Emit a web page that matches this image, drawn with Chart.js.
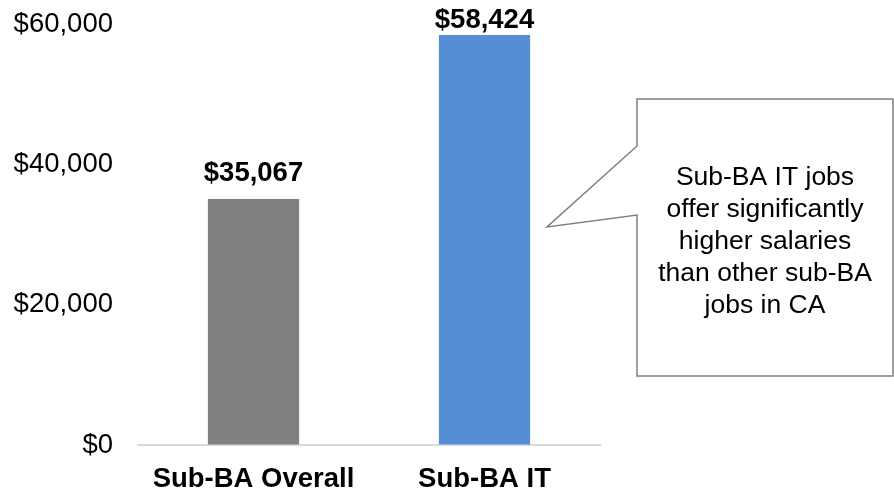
<!DOCTYPE html>
<html>
<head>
<meta charset="utf-8">
<script src="https://cdn.jsdelivr.net/npm/chart.js@4/dist/chart.umd.min.js"></script>
<style>
  html, body { margin: 0; padding: 0; background: #fff; }
  #wrap { width: 894px; height: 499px; }
</style>
</head>
<body>
<div id="wrap"><canvas id="chart" width="894" height="499"></canvas></div>
<script>
// data
var categories = ['Sub-BA Overall', 'Sub-BA IT'];
var salaries = [35067, 58424];
var barColors = ['#808080', '#558ed5'];
var yTicks = [0, 20000, 40000, 60000];
var calloutLines = ['Sub-BA IT jobs', 'offer significantly', 'higher salaries', 'than other sub-BA', 'jobs in CA'];

function money(v) {
    return '$' + Number(v).toLocaleString('en-US');
}

// value labels above the bars
var barLabels = {
    id: 'barLabels',
    afterDatasetsDraw: function(chart) {
        var ctx = chart.ctx;
        var meta = chart.getDatasetMeta(0);
        ctx.save();
        ctx.font = 'bold 27.5px "Liberation Sans", Arial, sans-serif';
        ctx.fillStyle = '#000';
        ctx.textAlign = 'center';
        ctx.textBaseline = 'alphabetic';
        meta.data.forEach(function(bar, i) {
            var y = Math.max(bar.y - 18, 28);
            ctx.fillText(money(salaries[i]), bar.x, y);
        });
        ctx.restore();
    }
};

// speech bubble on the right
var callout = {
    id: 'callout',
    afterDraw: function(chart) {
        var ctx = chart.ctx;
        ctx.save();
        ctx.beginPath();
        ctx.moveTo(637, 99);
        ctx.lineTo(893, 99);
        ctx.lineTo(893, 376);
        ctx.lineTo(637, 376);
        ctx.lineTo(637, 215);
        ctx.lineTo(547, 227);
        ctx.lineTo(637, 146);
        ctx.closePath();
        ctx.fillStyle = '#fff';
        ctx.fill();
        ctx.strokeStyle = '#7f7f7f';
        ctx.lineWidth = 1.5;
        ctx.stroke();
        ctx.font = '26.5px "Liberation Sans", Arial, sans-serif';
        ctx.fillStyle = '#000';
        ctx.textAlign = 'center';
        ctx.textBaseline = 'middle';
        calloutLines.forEach(function(t, i) {
            ctx.fillText(t, 765, 178 + i * 32);
        });
        ctx.restore();
    }
};

var myChart = new Chart('chart', {
    type: 'bar',
    data: {
        labels: categories,
        datasets: [{
            data: salaries,
            backgroundColor: barColors,
            borderWidth: 0,
            barPercentage: 0.395,
            categoryPercentage: 1
        }]
    },
    plugins: [barLabels, callout],
    options: {
        responsive: false,
        animation: false,
        layout: { padding: { top: 24, right: 294, bottom: 0, left: 0 } },
        plugins: {
            legend: { display: false },
            tooltip: { enabled: false }
        },
        scales: {
            x: {
                grid: { display: false, drawTicks: false },
                border: { display: true, color: '#d9d9d9', width: 2 },
                ticks: {
                    color: '#000',
                    padding: 18,
                    maxRotation: 0,
                    font: { family: '"Liberation Sans", Arial, sans-serif', size: 27.5, weight: 'bold' }
                },
                afterFit: function(scale) { scale.height = 54; }
            },
            y: {
                min: 0,
                max: 60000,
                // tick marks only used as a gap before the labels (invisible)
                grid: { display: true, drawOnChartArea: false, drawTicks: true, tickLength: 25, color: 'rgba(0,0,0,0)' },
                border: { display: false },
                afterBuildTicks: function(scale) {
                    scale.ticks = yTicks.map(function(v) { return { value: v }; });
                },
                ticks: {
                    color: '#000',
                    padding: 0,
                    font: { family: '"Liberation Sans", Arial, sans-serif', size: 27.5 },
                    callback: function(v) { return money(v); }
                },
                afterFit: function(scale) { scale.width = 138; }
            }
        }
    }
});
</script>
</body>
</html>
